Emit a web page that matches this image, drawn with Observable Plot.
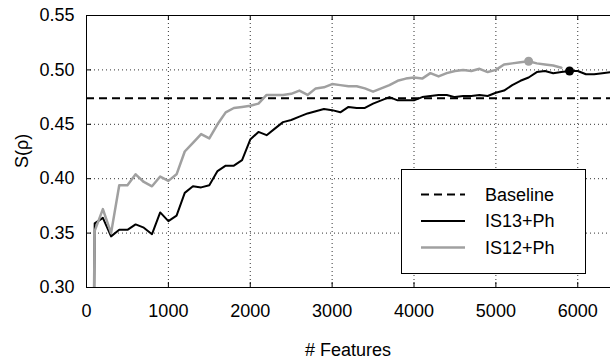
<!DOCTYPE html>
<html><head><meta charset="utf-8">
<script src="https://cdn.jsdelivr.net/npm/d3@7"></script>
<script src="https://cdn.jsdelivr.net/npm/@observablehq/plot@0.6"></script>
<style>
body{margin:0;background:#fff}
#chart{width:610px;height:360px;overflow:hidden;position:relative}
</style>
</head><body><div id="chart"></div>
<script>
// ---- data ----
const xTicks = [0, 1000, 2000, 3000, 4000, 5000, 6000];
const yTicks = [0.30, 0.35, 0.40, 0.45, 0.50, 0.55];
const baseline = 0.474;

const featuresIS13 = [90,100,200,300,400,500,600,700,800,900,1000,1100,1200,1300,1400,1500,1600,1700,1800,1900,2000,2100,2200,2300,2400,2500,2600,2700,2800,2900,3000,3100,3200,3300,3400,3500,3600,3700,3800,3900,4000,4100,4200,4300,4400,4500,4600,4700,4800,4900,5000,5100,5200,5300,5400,5500,5600,5700,5800,5900,6000,6100,6200,6300,6400];
const valuesIS13 = [0.25,0.359,0.364,0.347,0.353,0.353,0.358,0.355,0.349,0.369,0.361,0.366,0.387,0.393,0.392,0.394,0.407,0.412,0.412,0.417,0.436,0.443,0.440,0.446,0.452,0.454,0.457,0.460,0.462,0.464,0.463,0.461,0.466,0.465,0.465,0.469,0.472,0.475,0.472,0.472,0.472,0.475,0.476,0.477,0.477,0.475,0.476,0.476,0.477,0.476,0.479,0.481,0.486,0.490,0.493,0.498,0.499,0.497,0.498,0.499,0.499,0.496,0.496,0.497,0.498];

const featuresIS12 = [85,100,200,300,400,500,600,700,800,900,1000,1100,1200,1300,1400,1500,1600,1700,1800,1900,2000,2100,2200,2300,2400,2500,2600,2700,2800,2900,3000,3100,3200,3300,3400,3500,3600,3700,3800,3900,4000,4100,4200,4300,4400,4500,4600,4700,4800,4900,5000,5100,5200,5300,5400,5500,5600,5700,5800];
const valuesIS12 = [0.25,0.352,0.372,0.350,0.394,0.394,0.404,0.397,0.393,0.402,0.398,0.404,0.425,0.433,0.441,0.437,0.450,0.461,0.465,0.466,0.467,0.469,0.477,0.477,0.477,0.478,0.481,0.477,0.483,0.484,0.487,0.486,0.485,0.485,0.483,0.480,0.483,0.486,0.490,0.492,0.493,0.492,0.497,0.494,0.497,0.499,0.500,0.499,0.501,0.498,0.500,0.505,0.506,0.507,0.508,0.506,0.505,0.504,0.502];

const bestIS12 = {x: 5400, y: 0.508};
const bestIS13 = {x: 5900, y: 0.499};

const legendLabels = ["Baseline", "IS13+Ph", "IS12+Ph"];
const xLabel = "# Features";
const yLabel = "S(\u03C1)";

// ---- build ----
const rows13 = featuresIS13.map((x, i) => ({x, y: valuesIS13[i]}));
const rows12 = featuresIS12.map((x, i) => ({x, y: valuesIS12[i]}));

const W = 610, H = 360, mL = 86, mT = 15, mB = 73, mR = 0;
const innerW = W - mL - mR, innerH = H - mT - mB;
const font = "'Liberation Sans', Arial, Helvetica, sans-serif";
const gray = "#a0a0a0";
const fs = 18;

const svg = Plot.plot({
  width: W, height: H,
  marginLeft: mL, marginTop: mT, marginBottom: mB, marginRight: mR,
  style: {fontFamily: font, fontSize: fs + "px", color: "#000", background: "#fff", overflow: "hidden"},
  x: {domain: [0, 6400], label: null},
  y: {domain: [0.30, 0.55], label: null},
  marks: [
    Plot.gridX(xTicks.filter(d => d > 0), {stroke: "#333", strokeOpacity: 1, strokeDasharray: "1,3"}),
    Plot.gridY(yTicks.filter(d => d > 0.3 && d < 0.55), {stroke: "#333", strokeOpacity: 1, strokeDasharray: "1,3"}),
    Plot.gridX(xTicks, {stroke: "#000", strokeOpacity: 1, insetTop: innerH - 5}),
    Plot.gridX(xTicks, {stroke: "#000", strokeOpacity: 1, insetBottom: innerH - 5}),
    Plot.gridY(yTicks, {stroke: "#000", strokeOpacity: 1, insetRight: innerW - 5}),
    Plot.axisX(xTicks, {tickSize: 0, tickPadding: 17, tickFormat: d => String(d), fontSize: fs}),
    Plot.axisY(yTicks, {tickSize: 0, tickPadding: 12, tickFormat: d3.format(".2f"), fontSize: fs}),
    Plot.ruleY([0.30, 0.55], {stroke: "#000", strokeWidth: 1}),
    Plot.ruleX([0], {stroke: "#000", strokeWidth: 1}),
    Plot.ruleY([baseline], {stroke: "#000", strokeWidth: 2, strokeDasharray: "8,5"}),
    Plot.line(rows13, {x: "x", y: "y", stroke: "#000", strokeWidth: 2, clip: true}),
    Plot.line(rows12, {x: "x", y: "y", stroke: gray, strokeWidth: 2.5, clip: true}),
    Plot.dot([bestIS12], {x: "x", y: "y", r: 4.5, fill: gray, stroke: null}),
    Plot.dot([bestIS13], {x: "x", y: "y", r: 4.5, fill: "#000", stroke: null})
  ]
});

const s = d3.select(svg);
// axis titles
s.append("text").attr("x", mL + innerW / 2).attr("y", 356)
  .attr("text-anchor", "middle").attr("font-family", font).attr("font-size", fs)
  .attr("fill", "#000").text(xLabel);
s.append("text").attr("transform", `translate(28,${mT + innerH / 2}) rotate(-90)`)
  .attr("text-anchor", "middle").attr("font-family", font).attr("font-size", fs)
  .attr("fill", "#000").text(yLabel);

// legend
const lg = s.append("g");
lg.append("rect").attr("x", 401.5).attr("y", 169.5).attr("width", 184).attr("height", 104)
  .attr("fill", "#fff").attr("stroke", "#000").attr("stroke-width", 1);
const legendStyles = [
  {stroke: "#000", w: 2, dash: "8,5"},
  {stroke: "#000", w: 2, dash: null},
  {stroke: gray, w: 2.5, dash: null}
];
legendLabels.forEach((lab, i) => {
  const yy = 194.5 + i * 26.5;
  lg.append("line").attr("x1", 421).attr("x2", 465).attr("y1", yy).attr("y2", yy)
    .attr("stroke", legendStyles[i].stroke).attr("stroke-width", legendStyles[i].w)
    .attr("stroke-dasharray", legendStyles[i].dash);
  lg.append("text").attr("x", 485).attr("y", yy).attr("dy", "0.35em")
    .attr("text-anchor", "start")
    .attr("font-family", font).attr("font-size", 18).attr("fill", "#000").text(lab);
});

document.getElementById("chart").appendChild(svg);
</script>
</body></html>
